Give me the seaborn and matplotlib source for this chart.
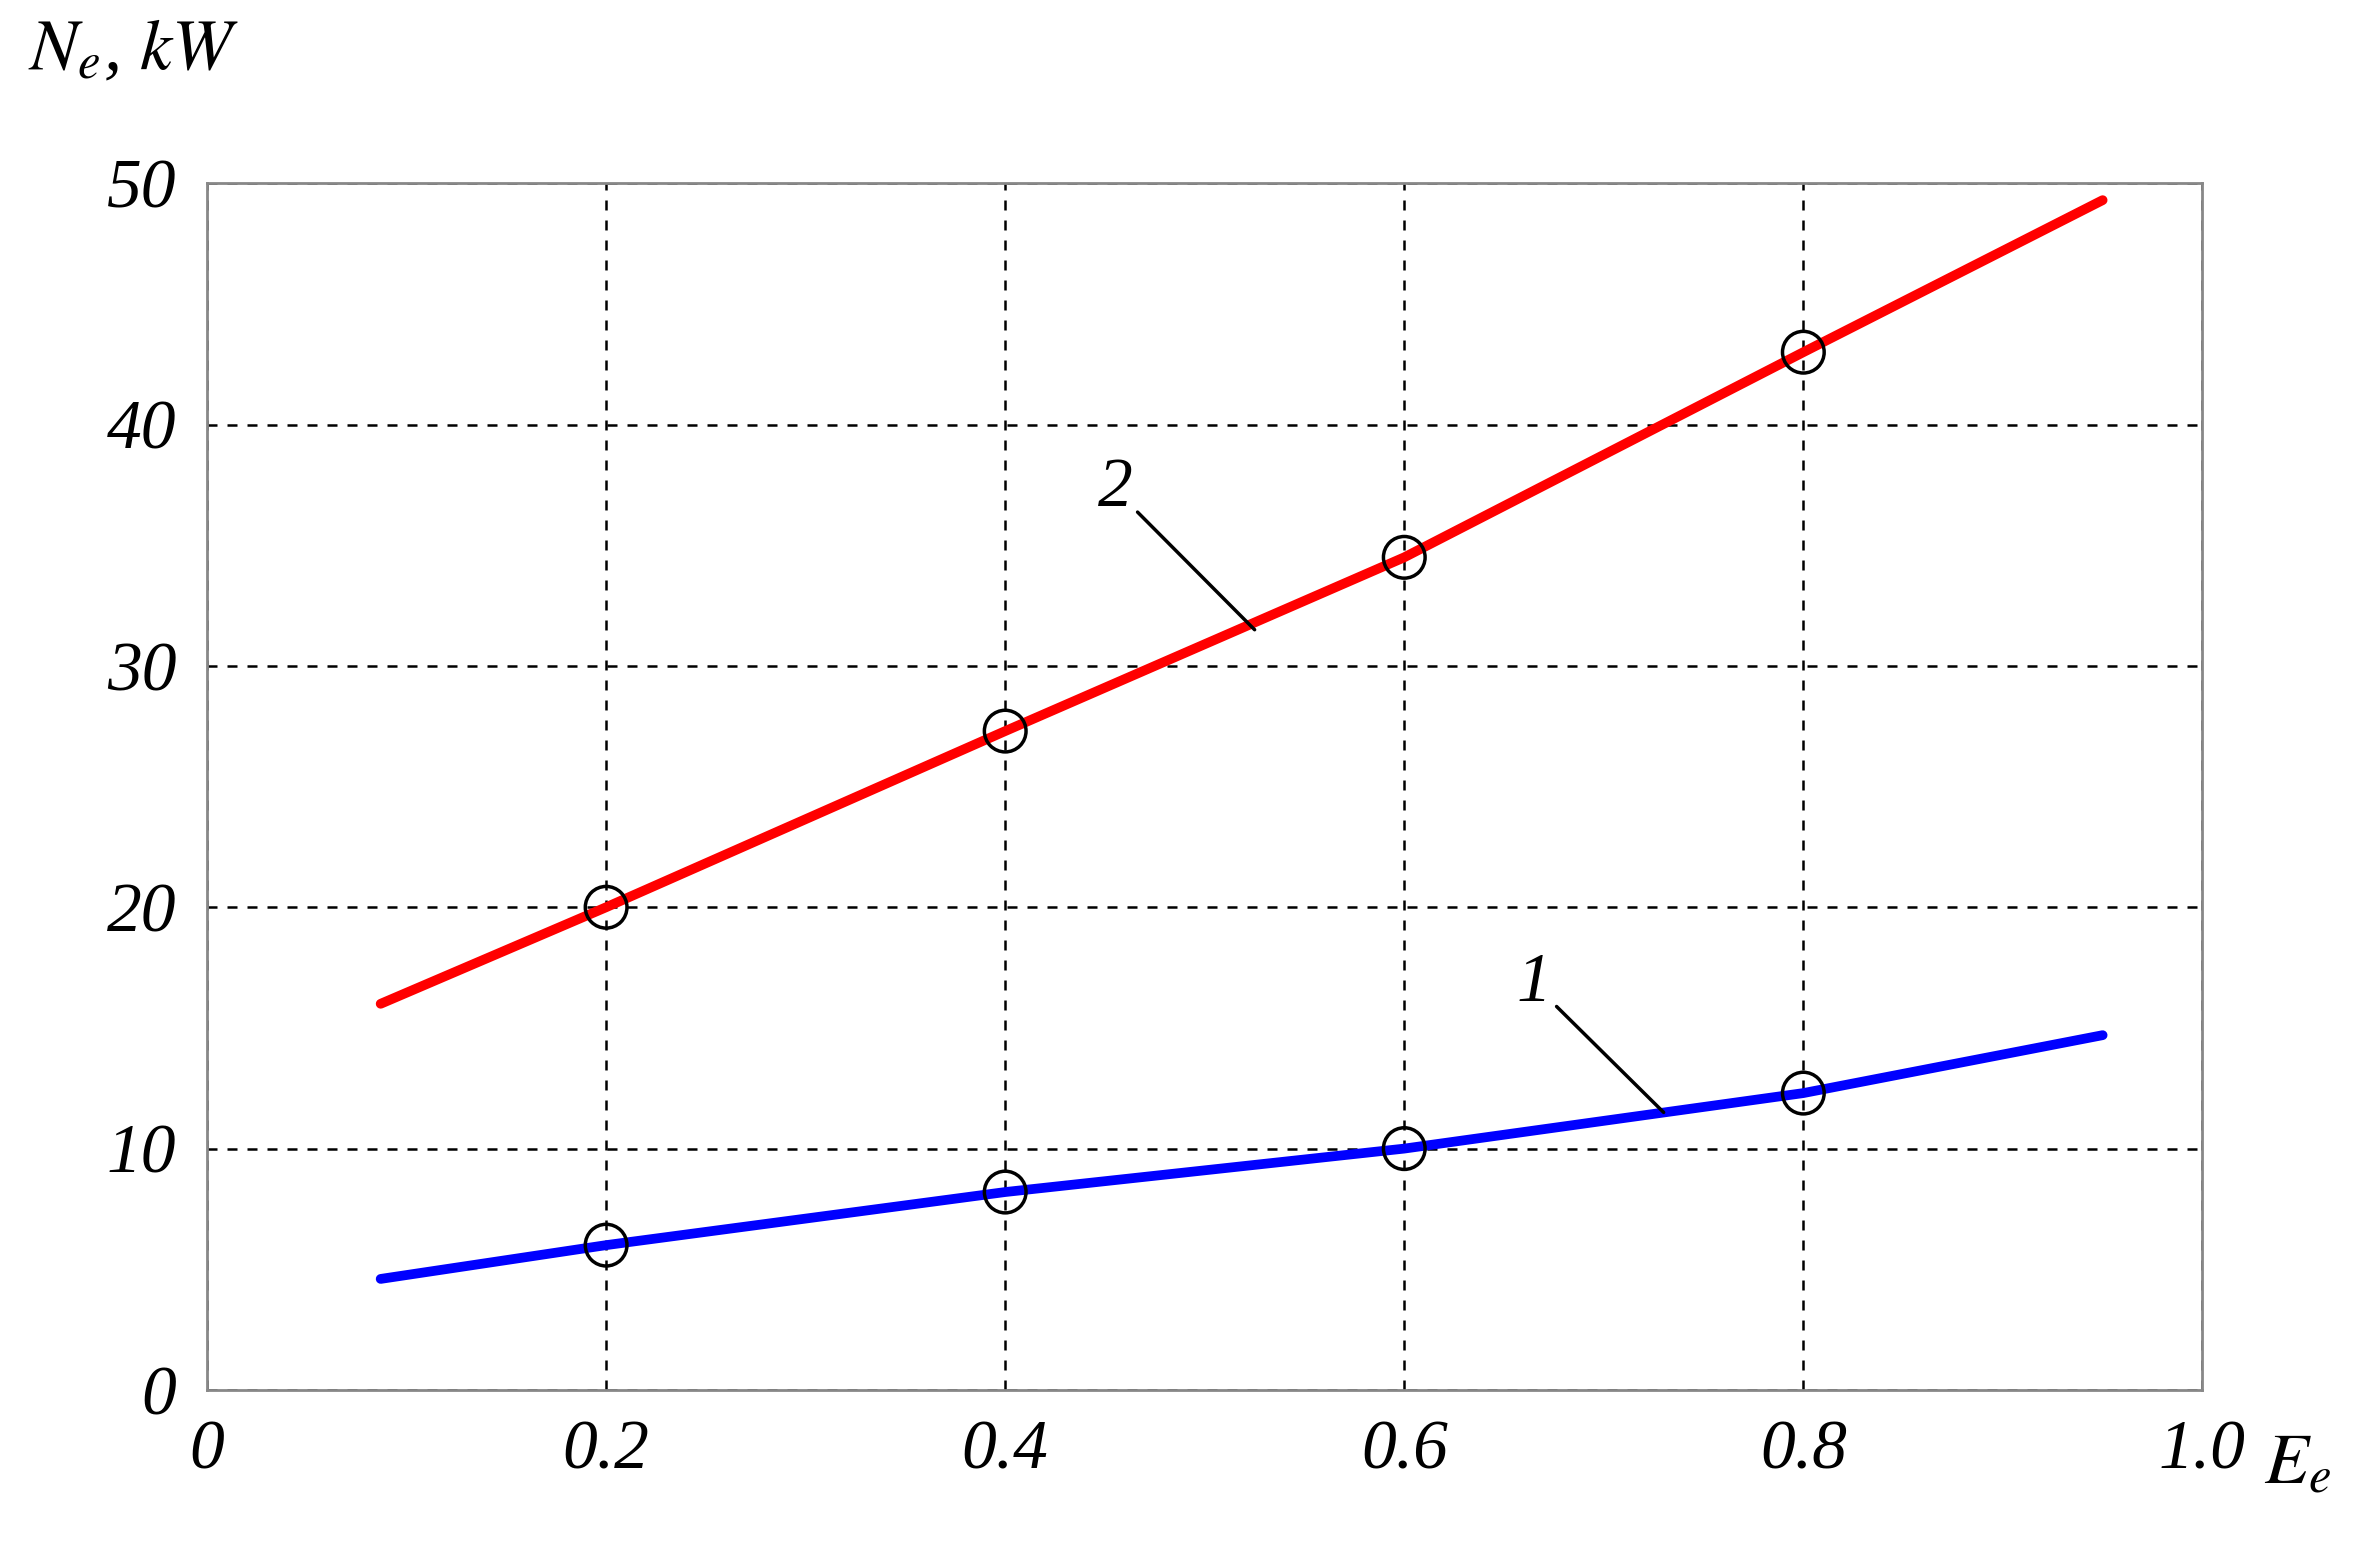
import matplotlib
matplotlib.use("Agg")
import matplotlib.pyplot as plt
import seaborn as sns
import pandas as pd

# curve 1 (blue) and curve 2 (red)
ee_line = [0.087, 0.2, 0.4, 0.6, 0.8, 0.95]
ne_1 = [4.6, 6.0, 8.2, 10.0, 12.3, 14.7]
ne_2 = [16.0, 20.0, 27.3, 34.5, 43.0, 49.3]

ee_pts = [0.2, 0.4, 0.6, 0.8]
pts_1 = [6.0, 8.2, 10.0, 12.3]
pts_2 = [20.0, 27.3, 34.5, 43.0]

x_ticks = [0, 0.2, 0.4, 0.6, 0.8, 1.0]
x_labels = ["0", "0.2", "0.4", "0.6", "0.8", "1.0"]
y_ticks = [0, 10, 20, 30, 40, 50]

sns.set_style("white")
plt.rcParams["font.family"] = ["Liberation Serif", "DejaVu Serif"]
plt.rcParams["font.style"] = "italic"
plt.rcParams["mathtext.fontset"] = "stix"
plt.rcParams["text.color"] = "black"
plt.rcParams["xtick.color"] = "black"
plt.rcParams["ytick.color"] = "black"

fig = plt.figure(figsize=(23.53, 15.53), dpi=100)
ax = fig.add_axes([0.088, 0.105, 0.848, 0.777])

df = pd.DataFrame({"Ee": ee_line * 2, "Ne": ne_1 + ne_2,
                   "curve": ["1"] * len(ee_line) + ["2"] * len(ee_line)})
sns.lineplot(data=df, x="Ee", y="Ne", hue="curve", palette={"1": "#0000ff", "2": "#ff0000"},
             linewidth=7, legend=False, ax=ax)
ax.scatter(ee_pts + ee_pts, pts_1 + pts_2, s=900, facecolors="none",
           edgecolors="black", linewidths=2.5, zorder=5)

ax.set_xlim(0, 1.0)
ax.set_ylim(0, 50)
ax.set_xticks(x_ticks)
ax.set_xticklabels(x_labels)
ax.set_yticks(y_ticks)
ax.tick_params(labelsize=50, length=0, pad=22)
ax.grid(True, color="black", linestyle=(0, (4, 4)), linewidth=1.8)
for s in ax.spines.values():
    s.set_color("#888888")
    s.set_linewidth(2)
ax.set_xlabel("")
ax.set_ylabel("")

fig.text(0.012, 0.955, "$N_e$, $kW$", fontsize=52)
fig.text(0.962, 0.045, "$E_e$", fontsize=52)

ax.annotate("2", xy=(0.525, 31.5), xytext=(0.455, 36.0), fontsize=50,
            ha="center", va="bottom",
            arrowprops=dict(arrowstyle="-", color="black", lw=2.5, shrinkA=2, shrinkB=0))
ax.annotate("1", xy=(0.73, 11.5), xytext=(0.665, 15.5), fontsize=50,
            ha="center", va="bottom",
            arrowprops=dict(arrowstyle="-", color="black", lw=2.5, shrinkA=2, shrinkB=0))

fig.savefig("out.png", dpi=100)
